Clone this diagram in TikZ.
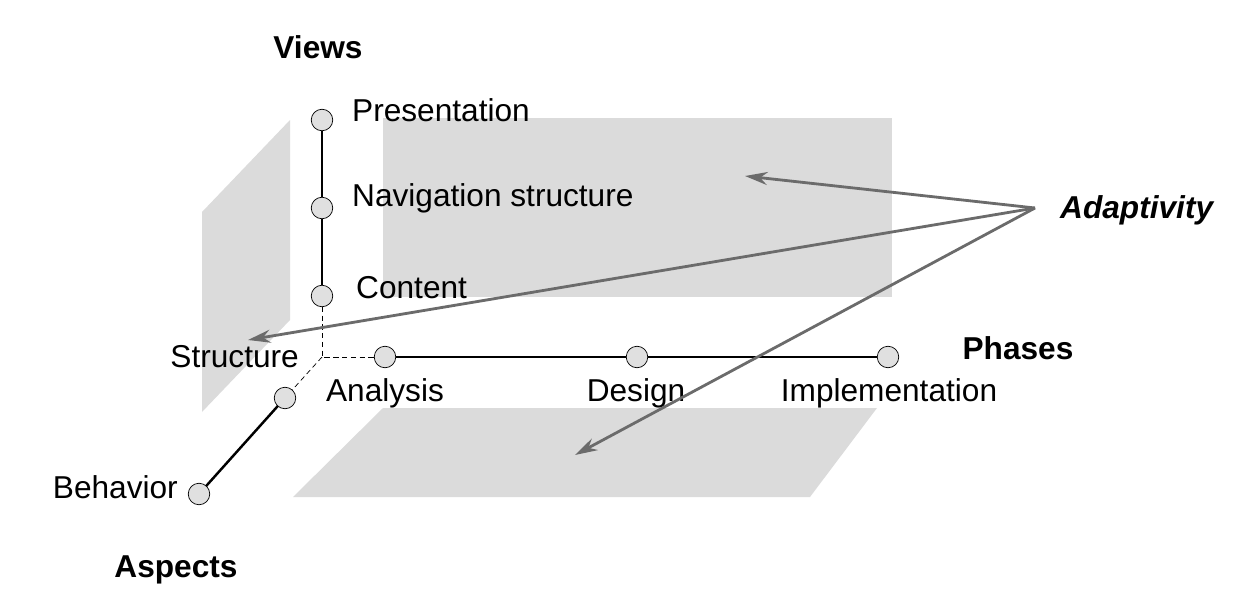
\documentclass[tikz,border=0pt]{standalone}
\usepackage{fontspec}
\setmainfont{Liberation Sans}
\usetikzlibrary{arrows.meta}
\definecolor{planegray}{gray}{0.86}
\definecolor{arrowgray}{gray}{0.42}
\begin{document}
\begin{tikzpicture}[x=0.2mm,y=-0.2mm,
    vertex/.style={draw,circle,minimum size=4.3mm,inner sep=0pt,outer sep=0pt,fill=black!12,thin},
    lbl/.style={font=\fontsize{18}{21}\selectfont},
    axislbl/.style={font=\fontsize{18}{21}\selectfont\bfseries},
    plane/.style={fill=planegray,draw=none},
    adapt/.style={draw=arrowgray,line width=1.6pt,-{Stealth[length=4.5mm,width=2.6mm]}}]
    \useasboundingbox (0,0) rectangle (1235,607);

    % planes
    \fill[plane] (202,212) -- (290,120) -- (290,320) -- (202,412) -- cycle;
    \fill[plane] (383,118) rectangle (892,297);
    \fill[plane] (383,408) -- (877,408) -- (810,497) -- (293,497) -- cycle;

    % axes
    \coordinate (orig) at (322,357);
    \node[vertex] (pres) at (322,120) {};
    \node[vertex] (nav)  at (322,208) {};
    \node[vertex] (cont) at (322,296) {};
    \node[vertex] (ana)  at (385,357) {};
    \node[vertex] (des)  at (637,357) {};
    \node[vertex] (impl) at (888,357) {};
    \node[vertex] (str)  at (285,398) {};
    \node[vertex] (beh)  at (199,494) {};

    \draw[line width=1.4pt] (pres) -- (nav) -- (cont);
    \draw[line width=1.4pt] (ana) -- (des) -- (impl);
    \draw[line width=1.4pt] (str) -- (beh);
    \draw[densely dashed,thin] (cont) -- (orig) -- (ana);
    \draw[densely dashed,thin] (orig) -- (str);

    \node[lbl,anchor=west] (presl) at (346,110) {Presentation};
    \node[lbl,anchor=west] (navl)  at (346,198) {Navigation structure};
    \node[lbl,anchor=west] (contl) at (350,288) {Content};
    \node[lbl,anchor=east] (strl)  at (305,357) {Structure};
    \node[lbl] (anal) at (385,393) {Analysis};
    \node[lbl] (desl) at (636,393) {Design};
    \node[lbl] (impll) at (889,393) {Implementation};
    \node[lbl,anchor=east] (behl) at (184,487) {Behavior};

    \node[axislbl] (views)   at (318,47)  {Views};
    \node[axislbl] (phases)  at (1018,348) {Phases};
    \node[axislbl] (aspects) at (176,570) {Aspects};
    \node[axislbl,font=\fontsize{18}{21}\selectfont\bfseries\itshape,anchor=west] (adapt) at (1054,210) {Adaptivity};

    % adaptivity arrows
    \coordinate (src)   at (1035,208);
    \coordinate (tview) at (745,176);
    \coordinate (tasp)  at (248,340);
    \coordinate (tph)   at (575,455);
    \draw[adapt] (src) -- (tview);
    \draw[adapt] (src) -- (tasp);
    \draw[adapt] (src) -- (tph);
\end{tikzpicture}
\end{document}
